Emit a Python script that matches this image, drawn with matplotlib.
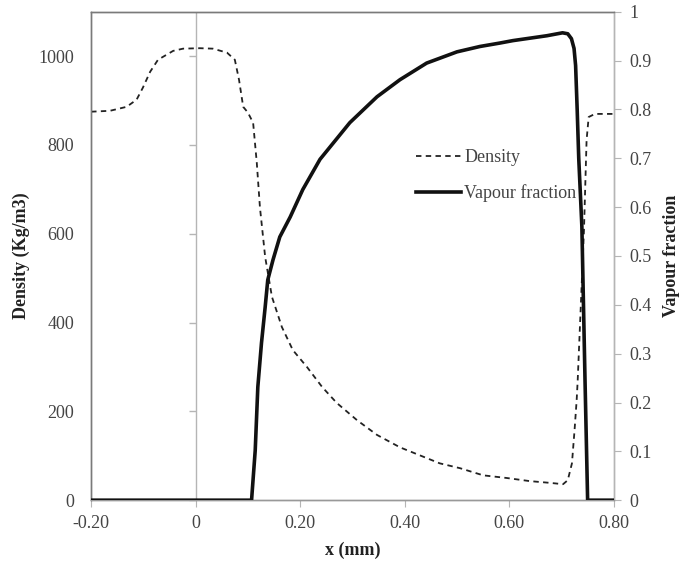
import numpy as np
import matplotlib.pyplot as plt

plt.rcParams['font.family'] = ['Liberation Serif', 'DejaVu Serif']

# density (kg/m3) along x (mm)
x_dens = [-0.20, -0.164, -0.132, -0.113, -0.101, -0.087, -0.072, -0.043, -0.024,
          0.008, 0.033, 0.060, 0.075, 0.083, 0.091, 0.100, 0.110, 0.117, 0.123,
          0.133, 0.146, 0.165, 0.186, 0.213, 0.242, 0.270, 0.309, 0.347, 0.391,
          0.467, 0.506, 0.550, 0.595, 0.639, 0.678, 0.703, 0.712, 0.720, 0.725,
          0.729, 0.731, 0.735, 0.743, 0.748, 0.752, 0.764, 0.80]
density = [875, 877, 886, 902, 929, 965, 992, 1012, 1017,
           1018, 1017, 1008, 992, 947, 886, 873, 850, 760, 660,
           548, 458, 390, 338, 300, 255, 219, 180, 147, 119,
           83, 72, 56, 50, 43, 39, 36, 45, 83, 158,
           225, 270, 383, 608, 811, 863, 870, 870]

# vapour fraction along x (mm)
x_vap = [-0.20, 0.107, 0.114, 0.119, 0.126, 0.133, 0.138, 0.148, 0.161, 0.181,
         0.205, 0.238, 0.295, 0.347, 0.391, 0.442, 0.500, 0.544, 0.582,
         0.607, 0.672, 0.702, 0.712, 0.719, 0.724, 0.727, 0.730, 0.733, 0.739,
         0.745, 0.750, 0.80]
vapour = [0, 0, 0.102, 0.232, 0.322, 0.395, 0.451, 0.492, 0.539, 0.580,
          0.636, 0.698, 0.773, 0.826, 0.861, 0.895, 0.918, 0.929, 0.936,
          0.941, 0.951, 0.957, 0.955, 0.945, 0.925, 0.890, 0.800, 0.700, 0.560,
          0.246, 0, 0]

xticks = [-0.2, 0, 0.2, 0.4, 0.6, 0.8]
xticklabels = ['-0.20', '0', '0.20', '0.40', '0.60', '0.80']
dticks = [0, 200, 400, 600, 800, 1000]
vticks = [0, 0.1, 0.2, 0.3, 0.4, 0.5, 0.6, 0.7, 0.8, 0.9, 1.0]
vticklabels = ['0', '0.1', '0.2', '0.3', '0.4', '0.5', '0.6', '0.7', '0.8', '0.9', '1']

fig = plt.figure(figsize=(6.85, 5.62), dpi=100)
ax = fig.add_axes([0.133, 0.110, 0.763, 0.869])
ax2 = ax.twinx()

axis_grey = '#b5b5b5'
frame_grey = '#7a7a7a'
text_col = '#444444'
fs = 13

# axis line through x = 0 with its little ticks (Excel style)
ax.axvline(0, color=axis_grey, lw=1.0, zorder=1)
ax.plot(np.zeros(len(dticks)), dticks, ls='none', marker=0, markersize=5,
        color=axis_grey, mew=1.0, zorder=1, clip_on=False)

l1, = ax.plot(x_dens, density, color='#222222', lw=1.3, ls=(0, (3, 2.4)),
              label='Density', zorder=3)
l2, = ax2.plot(x_vap, vapour, color='#111111', lw=2.6, label='Vapour fraction',
               zorder=3, solid_joinstyle='round')

ax.set_xlim(-0.2, 0.8)
ax.set_ylim(0, 1100)
ax2.set_ylim(0, 1.0)

ax.set_xticks(xticks)
ax.set_xticklabels(xticklabels)
ax.set_yticks(dticks)
ax2.set_yticks(vticks)
ax2.set_yticklabels(vticklabels)

ax.tick_params(axis='x', direction='out', length=5, color=axis_grey,
               labelsize=fs, labelcolor=text_col, pad=6)
ax.tick_params(axis='y', length=0, labelsize=fs, labelcolor=text_col, pad=12)
ax2.tick_params(axis='y', direction='out', length=5, color=axis_grey,
                labelsize=fs, labelcolor=text_col, pad=6)

for a in (ax, ax2):
    a.spines['top'].set_color(frame_grey)
    a.spines['left'].set_color(frame_grey)
    a.spines['bottom'].set_color('#999999')
    a.spines['right'].set_color(axis_grey)
    for s in a.spines.values():
        s.set_linewidth(1.0)

ax.set_xlabel('x (mm)', fontsize=fs, fontweight='bold', color='#222222', labelpad=7)
ax.set_ylabel('Density (Kg/m3)', fontsize=fs, fontweight='bold', color='#222222', labelpad=6)
ax2.set_ylabel('Vapour fraction', fontsize=fs, fontweight='bold', color='#222222',
               rotation=90, labelpad=8)

ax.legend(handles=[l1, l2], loc='upper left', bbox_to_anchor=(0.59, 0.752),
          frameon=False, fontsize=fs, handlelength=2.5, handletextpad=0.2,
          labelspacing=1.0, labelcolor=text_col)

fig.savefig('out.png', dpi=100)
